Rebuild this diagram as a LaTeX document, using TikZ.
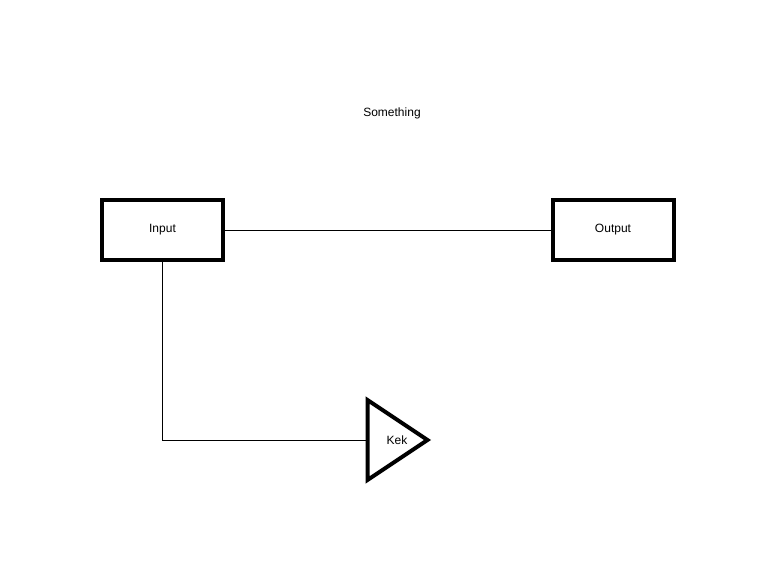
\documentclass[tikz,border=0pt]{standalone}
\usepackage{fontspec}
\setmainfont{Liberation Sans}
\begin{document}
\begin{tikzpicture}[x=1pt,y=-1pt,
  box/.style={draw,line width=4pt,minimum width=121pt,minimum height=60pt,inner sep=0pt,font=\fontsize{12pt}{14pt}\selectfont},
  lbl/.style={font=\fontsize{12pt}{14pt}\selectfont,inner sep=0pt},
  wire/.style={line width=1pt},
  amp/.style={line width=4pt,line join=miter}]
\useasboundingbox (0,0) rectangle (774,583);
\node[box] (input) at (162.5,230) {Input};
\node[box] (output) at (613,230) {Output};
\node[lbl] (title) at (392,113) {Something};
\draw[amp] (367.5,400) -- (427.5,440) -- (367.5,480) -- cycle;
\node[lbl] (kek) at (397,440) {Kek};
\coordinate (kekin) at (367.5,440);
\draw[wire] (input) -- (output);
\draw[wire] (input.south) |- (kekin);
\end{tikzpicture}
\end{document}
